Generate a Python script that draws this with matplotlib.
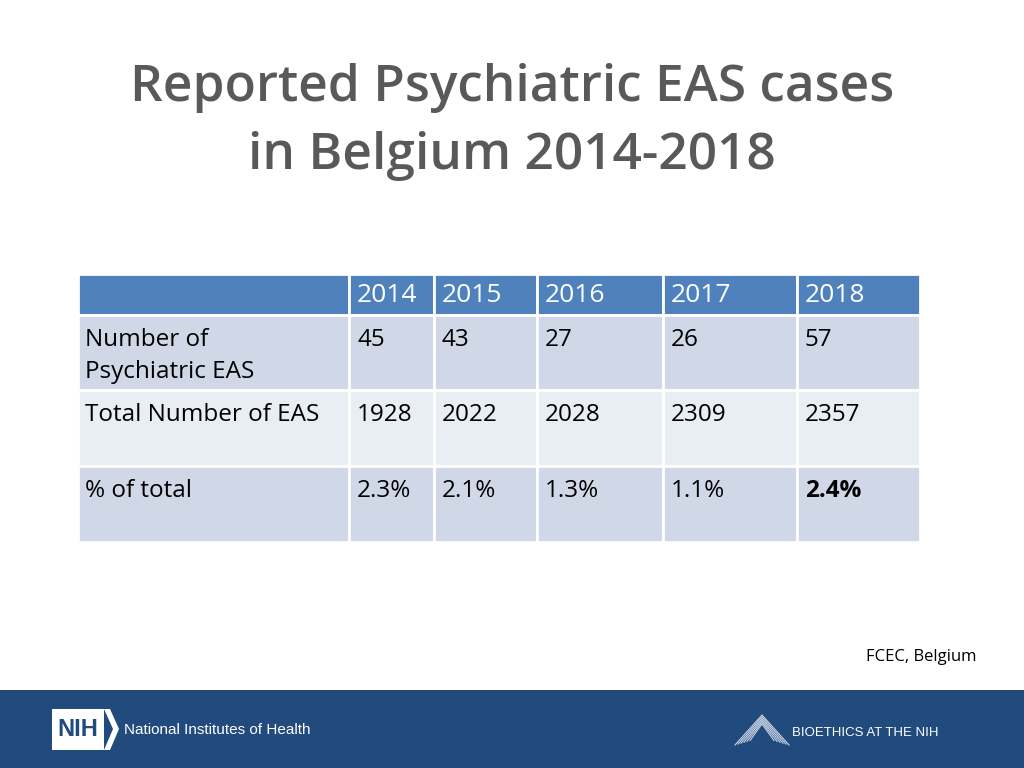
import matplotlib
matplotlib.use("Agg")
import matplotlib.pyplot as plt
from matplotlib.patches import Rectangle, Polygon

# table data
years = ["2014", "2015", "2016", "2017", "2018"]
row_labels = ["Number of\nPsychiatric EAS", "Total Number of EAS", "% of total"]
psych_eas = [45, 43, 27, 26, 57]
total_eas = [1928, 2022, 2028, 2309, 2357]
pct_total = [2.3, 2.1, 1.3, 1.1, 2.4]

title_lines = ["Reported Psychiatric EAS cases", "in Belgium 2014-2018"]
source = "FCEC, Belgium"

plt.rcParams['font.family'] = ['Open Sans', 'DejaVu Sans']

fig = plt.figure(figsize=(10.24, 7.68), dpi=100)
ax = fig.add_axes([0, 0, 1, 1])
ax.set_xlim(0, 1024)
ax.set_ylim(768, 0)
ax.axis("off")

# title
for k, line in enumerate(title_lines):
    ax.text(512, 88 + k * 68, line, ha="center", va="center", fontsize=37,
            color="#595959", fontweight="semibold")

# table geometry
col_x = [78, 349, 434, 537, 663, 797, 920]
row_y = [274, 315, 390, 466, 542]
header_col = "#4F81BD"
row_cols = ["#D0D8E8", "#E9EDF4", "#D0D8E8"]

for j in range(6):
    ax.add_patch(Rectangle((col_x[j], row_y[0]), col_x[j + 1] - col_x[j], row_y[1] - row_y[0],
                           facecolor=header_col, edgecolor="white", lw=2))
for i in range(3):
    for j in range(6):
        ax.add_patch(Rectangle((col_x[j], row_y[i + 1]), col_x[j + 1] - col_x[j],
                               row_y[i + 2] - row_y[i + 1],
                               facecolor=row_cols[i], edgecolor="white", lw=2))

for j, y in enumerate(years):
    ax.text(col_x[j + 1] + 8, 296, y, ha="left", va="center", fontsize=19, color="white")

rows = [[str(v) for v in psych_eas],
        [str(v) for v in total_eas],
        [f"{v}%" for v in pct_total]]
for i, lab in enumerate(row_labels):
    top = row_y[i + 1]
    ax.text(85, top + 13, lab, ha="left", va="top", fontsize=17.5, color="black",
            linespacing=1.45)
    for j, val in enumerate(rows[i]):
        bold = (i == 2 and j == 4)
        ax.text(col_x[j + 1] + 8, top + 13, val, ha="left", va="top", fontsize=17.5,
                color="black", fontweight="bold" if bold else "normal")

ax.text(977, 657, source, ha="right", va="center", fontsize=12, color="black")

# footer band
ax.add_patch(Rectangle((0, 690), 1024, 78, facecolor="#214A7D", edgecolor="none"))
ax.add_patch(Rectangle((52, 709), 52, 41, facecolor="white", edgecolor="none"))
ax.add_patch(Polygon([(104, 709), (110, 709), (119, 729), (110, 750), (104, 750), (113, 729)],
                     closed=True, facecolor="white", edgecolor="none"))
ax.text(78, 730, "NIH", ha="center", va="center", fontsize=17, color="#214A7D",
        fontweight="bold", family="Liberation Sans")
ax.text(124, 730, "National Institutes of Health", ha="left", va="center", fontsize=11,
        color="white", family="Liberation Sans")
for k in range(6):
    off = k * 3
    ax.plot([735 + off, 762, 789 - off], [745 - off * 0.3, 715 + off * 0.6, 745 - off * 0.3],
            color="#C9D3E3", lw=0.8)
ax.text(792, 733, "BIOETHICS AT THE NIH", ha="left", va="center", fontsize=9.5,
        color="white", family="Liberation Sans")

fig.savefig("out.png", dpi=100)
